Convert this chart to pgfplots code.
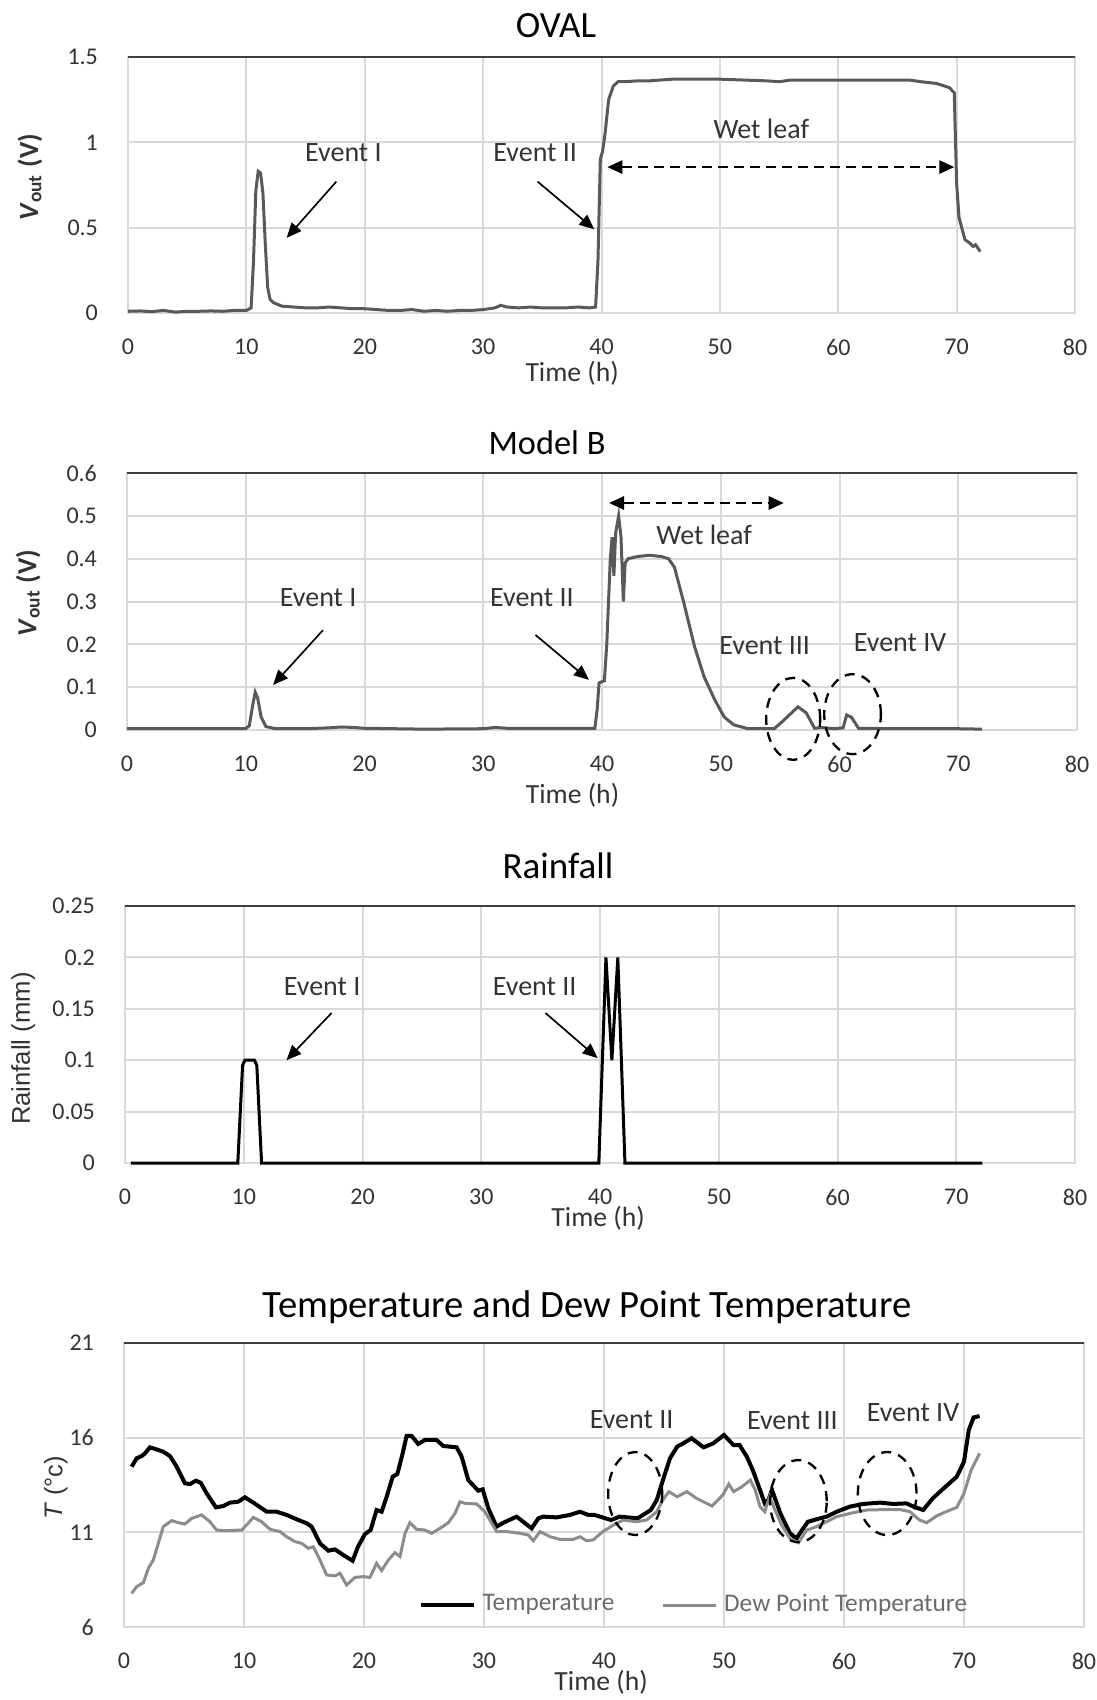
\documentclass[border=0pt]{standalone}
\usepackage{fontspec}
\setmainfont{Carlito}
\newfontfamily\arialf{Liberation Sans}
\usepackage{pgfplots}
\pgfplotsset{compat=1.18}
\usetikzlibrary{arrows.meta}
\definecolor{gridgray}{HTML}{D9D9D9}
\definecolor{curvegray}{HTML}{595959}
\definecolor{dewgray}{HTML}{8C8C8C}
\definecolor{framedark}{HTML}{404040}
\definecolor{txt}{HTML}{333333}
\definecolor{legtxt}{HTML}{6A6A6A}

\pgfplotsset{
  panel/.style={
    scale only axis, anchor=south west, clip=false,
    xmin=0, xmax=80, xtick={0,10,...,80},
    grid=major, major grid style={draw=gridgray, line width=0.6pt},
    axis line style={draw=gridgray, line width=0.6pt},
    major tick length=0pt, scaled ticks=false,
    tick label style={font=\fontsize{7.2}{8}\selectfont, text=txt},
    /pgf/number format/assume math mode=true,
    yticklabel style={/pgf/number format/fixed, /pgf/number format/precision=2,
      anchor=east, xshift=-5.5pt},
    xticklabel style={anchor=center, yshift=-10.2pt},
    xlabel={Time (h)},
    label style={font=\fontsize{8.3}{9}\selectfont, text=txt},
  },
}
\tikzset{
  note/.style={font=\fontsize{8.4}{9}\selectfont, text=txt},
  arr/.style={-{Triangle[length=4.5pt,width=3.8pt]}, line width=0.5pt, black},
  dbl/.style={{Triangle[length=4.5pt,width=4pt]}-{Triangle[length=4.5pt,width=4pt]},
    line width=0.6pt, black, dash pattern=on 3pt off 1.8pt},
  ring/.style={line width=0.7pt, black, dash pattern=on 3pt off 2.2pt},
  topline/.style={line width=0.7pt, framedark},
}

\begin{document}
\begin{tikzpicture}
\useasboundingbox (0,0) rectangle (328.8pt,-510pt);

% ---- OVAL ----
\node[anchor=base, font=\fontsize{11.1}{13}\selectfont] at (166.8pt,-11.4pt) {OVAL};
\begin{axis}[panel, at={(38.4pt,-93.9pt)}, width=284.1pt, height=76.8pt,
  ymin=0, ymax=1.5, ytick={0,0.5,1,1.5},
  ylabel={\bfseries\textit{V}\textsubscript{out} (V)},
  ylabel style={at={(axis description cs:-0.1035,0.53)}, anchor=center},
  xlabel style={at={(axis description cs:0.469,-0.234)}, anchor=center}]
\addplot[curvegray, line width=0.9pt] coordinates {
 (0,0.01) (1,0.012) (2,0.008) (3,0.015) (4,0.005) (5,0.01) (6,0.01) (7,0.012)
 (8,0.01) (9,0.015) (10,0.015) (10.4,0.03) (10.6,0.3) (10.8,0.72) (11.0,0.83)
 (11.2,0.82) (11.4,0.7) (11.6,0.4) (11.8,0.15) (12.0,0.08) (12.3,0.06) (13,0.04)
 (14,0.035) (15,0.03) (16,0.03) (17,0.035) (18,0.03) (19,0.025) (20,0.025)
 (21,0.02) (22,0.015) (23,0.015) (24,0.02) (25,0.01) (26,0.015) (27,0.01)
 (28,0.015) (29,0.015) (30,0.02) (31,0.03) (31.5,0.045) (32,0.035) (33,0.03)
 (34,0.035) (35,0.03) (36,0.03) (37,0.03) (38,0.035) (39,0.03) (39.5,0.035)
 (39.7,0.3) (39.9,0.9) (40.1,0.95) (40.3,1.05) (40.6,1.25) (41.0,1.33)
 (41.4,1.355) (42,1.355) (43,1.36) (44,1.36) (45,1.365) (46,1.37) (48,1.37)
 (50,1.37) (52,1.365) (54,1.36) (55,1.355) (56,1.365) (58,1.365) (60,1.365)
 (62,1.365) (64,1.365) (66,1.365) (67,1.355) (68.3,1.345) (69.4,1.32)
 (69.8,1.29) (70.0,0.76) (70.2,0.56) (70.7,0.43) (71.1,0.41) (71.4,0.39)
 (71.6,0.40) (72.0,0.36)};
\draw[topline] (rel axis cs:0,1) -- (rel axis cs:1,1);
\node[note] at (axis cs:18.2,0.94) {Event I};
\draw[arr] (axis cs:17.6,0.77) -- (axis cs:13.4,0.44);
\node[note] at (axis cs:34.4,0.94) {Event II};
\draw[arr] (axis cs:34.6,0.77) -- (axis cs:39.4,0.49);
\node[note] at (axis cs:53.5,1.08) {Wet leaf};
\draw[dbl] (axis cs:40.5,0.855) -- (axis cs:69.8,0.855);
\end{axis}

% ---- Model B ----
\node[anchor=base, font=\fontsize{10.3}{12}\selectfont] at (164.1pt,-136.5pt) {Model B};
\begin{axis}[panel, at={(38.1pt,-219pt)}, width=285pt, height=77.1pt,
  ymin=0, ymax=0.6, ytick={0,0.1,...,0.6},
  ylabel={\bfseries\textit{V}\textsubscript{out} (V)},
  ylabel style={at={(axis description cs:-0.104,0.533)}, anchor=center},
  xlabel style={at={(axis description cs:0.469,-0.253)}, anchor=center}]
\addplot[curvegray, line width=0.9pt] coordinates {
 (0,0.003) (5,0.003) (10,0.003) (10.3,0.01) (10.6,0.06) (10.8,0.088) (11.0,0.075)
 (11.3,0.03) (11.7,0.008) (12.5,0.003) (15,0.003) (17,0.005) (18,0.007)
 (19,0.006) (20,0.004) (25,0.002) (30,0.003) (31,0.006) (32,0.004) (35,0.004)
 (39.4,0.004) (39.6,0.05) (39.75,0.11) (40.2,0.115) (40.4,0.2) (40.7,0.40)
 (40.85,0.45) (41.0,0.36) (41.15,0.46) (41.4,0.50) (41.6,0.45) (41.8,0.30)
 (41.95,0.39) (42.2,0.40) (43,0.405) (44,0.408) (45,0.405) (45.6,0.4)
 (46.1,0.38) (46.9,0.296) (47.8,0.194) (48.6,0.124) (49.5,0.07) (50.3,0.03)
 (51.1,0.012) (52.3,0.003) (54.5,0.003) (55.2,0.02) (56.5,0.054) (57.2,0.04)
 (57.9,0.004) (58.5,0.006) (59.5,0.003) (60.3,0.005) (60.6,0.035) (61.0,0.03)
 (61.6,0.004) (65,0.003) (70,0.003) (72,0.002)};
\draw[topline] (rel axis cs:0,1) -- (rel axis cs:1,1);
\node[note] at (axis cs:16.1,0.308) {Event I};
\draw[arr] (axis cs:16.5,0.233) -- (axis cs:12.3,0.105);
\node[note] at (axis cs:34.1,0.308) {Event II};
\draw[arr] (axis cs:34.4,0.222) -- (axis cs:38.9,0.117);
\node[note] at (axis cs:48.6,0.455) {Wet leaf};
\draw[dbl] (axis cs:40.6,0.53) -- (axis cs:55.3,0.53);
\node[note] at (axis cs:53.7,0.198) {Event III};
\node[note] at (axis cs:65.1,0.203) {Event IV};
\draw[ring] (axis cs:56.1,0.026) ellipse [x radius=8.1pt, y radius=12.3pt];
\draw[ring] (axis cs:61.1,0.037) ellipse [x radius=8.5pt, y radius=12pt];
\end{axis}

% ---- Rainfall ----
\node[anchor=base, font=\fontsize{11.1}{13}\selectfont] at (167.4pt,-263.4pt) {Rainfall};
\begin{axis}[panel, at={(37.5pt,-348.9pt)}, width=285pt, height=77.1pt,
  ymin=0, ymax=0.25, ytick={0,0.05,...,0.25},
  ylabel={\arialf Rainfall (mm)},
  ylabel style={at={(axis description cs:-0.107,0.445)}, anchor=center, font=\fontsize{7.7}{9}\selectfont},
  xlabel style={at={(axis description cs:0.498,-0.215)}, anchor=center}]
\addplot[black, line width=0.9pt] coordinates {
 (0.5,0) (9.5,0) (9.9,0.095) (10.1,0.1) (10.9,0.1) (11.1,0.095) (11.5,0)
 (39.9,0) (40.5,0.2) (41.0,0.1) (41.5,0.2) (42.1,0) (72.2,0)};
\draw[topline] (rel axis cs:0,1) -- (rel axis cs:1,1);
\node[note] at (axis cs:16.6,0.172) {Event I};
\draw[arr] (axis cs:17.4,0.146) -- (axis cs:13.6,0.1);
\node[note] at (axis cs:34.5,0.172) {Event II};
\draw[arr] (axis cs:35.4,0.146) -- (axis cs:39.8,0.102);
\end{axis}

% ---- Temperature ----
\node[anchor=base, font=\fontsize{11.6}{14}\selectfont] at (176.1pt,-395.1pt) {Temperature and Dew Point Temperature};
\begin{axis}[panel, at={(37.2pt,-488.1pt)}, width=288pt, height=85.2pt,
  ymin=6, ymax=21, ytick={6,11,16,21},
  ylabel={\arialf\textit{T} (°c)},
  ylabel style={at={(axis description cs:-0.071,0.49)}, anchor=center, font=\fontsize{7.6}{9}\selectfont},
  xlabel style={at={(axis description cs:0.497,-0.194)}, anchor=center},
  legend style={draw=none, fill=none, at={(0.596,0.077)}, anchor=center,
    legend columns=2, font=\fontsize{7.6}{9}\selectfont, text=legtxt,
    /tikz/every even column/.append style={column sep=12pt}},
  legend image code/.code={\draw[#1] (0pt,0pt) -- (16pt,0pt);}]
\addplot[black, line width=1.2pt] coordinates {
 (0.64,14.47) (1.05,14.91) (1.47,15.03) (1.75,15.17) (2.16,15.49) (2.72,15.38)
 (3.27,15.26) (3.83,15.03) (4.39,14.47) (5.08,13.59) (5.5,13.55) (6.0,13.73)
 (6.39,13.62) (6.89,13.06) (7.66,12.32) (8.27,12.39) (8.83,12.57) (9.52,12.62)
 (10.08,12.85) (10.78,12.57) (11.89,12.09) (12.72,12.09) (13.55,11.92)
 (14.39,11.69) (15.22,11.48) (15.64,11.3) (16.33,10.42) (17.03,10.03)
 (17.58,10.1) (18.28,9.8) (19.05,9.5) (19.5,10.24) (20.08,10.91) (20.55,11.12)
 (21.05,12.18) (21.47,12.09) (21.89,12.88) (22.39,13.94) (22.78,14.08)
 (23.22,15.17) (23.55,16.09) (23.97,16.09) (24.52,15.67) (25.08,15.88)
 (26.05,15.88) (26.61,15.56) (27.72,15.49) (28.14,15.0) (28.69,13.76)
 (29.53,13.2) (29.89,13.27) (30.36,12.27) (31.05,11.3) (31.61,11.51)
 (32.72,11.83) (33.42,11.48) (33.97,11.21) (34.53,11.74) (34.94,11.83)
 (36.05,11.79) (37.16,11.92) (37.99,12.09) (38.69,11.92) (39.2,11.92)
 (40.6,11.65) (41.3,11.83) (42.8,11.74) (43.9,12.18) (44.4,12.71) (45.0,13.94)
 (45.5,14.91) (46.1,15.53) (46.6,15.7) (47.3,15.97) (48.3,15.49) (49.1,15.7)
 (50.0,16.14) (50.8,15.61) (51.3,15.61) (51.9,15.0) (52.4,14.29) (53.0,13.24)
 (53.4,12.53) (53.7,12.71) (54.0,13.24) (54.25,12.8) (54.7,12.0) (55.5,10.95)
 (56.05,10.68) (56.5,11.12) (57.0,11.56) (58.0,11.74) (58.55,11.83)
 (59.4,12.09) (60.5,12.36) (61.6,12.5) (63.0,12.57) (64.1,12.5) (65.2,12.53)
 (65.8,12.36) (66.6,12.18) (67.4,12.8) (68.3,13.32) (69.4,13.94) (70.0,14.73)
 (70.4,16.4) (70.8,17.07) (71.3,17.14)};
\addlegendentry{Temperature}
\addplot[dewgray, line width=0.9pt] coordinates {
 (0.64,7.78) (1.05,8.13) (1.61,8.34) (2.03,9.1) (2.44,9.54) (2.86,10.42)
 (3.27,11.3) (3.97,11.62) (4.53,11.51) (5.08,11.44) (5.64,11.74) (6.47,11.92)
 (7.16,11.56) (7.72,11.12) (8.41,11.09) (9.8,11.12) (10.22,11.39) (10.78,11.79)
 (11.47,11.56) (12.17,11.16) (13.0,11.04) (13.55,10.77) (14.25,10.51)
 (14.8,10.42) (15.36,10.16) (15.78,10.24) (16.33,9.54) (16.89,8.75)
 (17.58,8.7) (18.0,8.84) (18.55,8.22) (19.25,8.62) (19.94,8.66) (20.5,8.62)
 (21.05,9.36) (21.47,8.98) (22.03,9.54) (22.58,9.93) (23.0,9.72) (23.42,10.95)
 (23.83,11.51) (24.39,11.16) (25.08,11.12) (25.64,10.95) (26.33,11.21)
 (27.03,11.51) (27.58,12.0) (28.0,12.62) (28.42,12.53) (29.39,12.5)
 (30.08,12.09) (31.05,11.04) (31.89,11.04) (33.0,10.95) (33.69,10.86)
 (34.11,10.56) (34.67,11.04) (35.5,10.77) (36.33,10.63) (37.44,10.63)
 (38.0,10.77) (38.55,10.56) (39.1,10.6) (39.9,11.04) (40.8,11.39) (41.6,11.65)
 (42.7,11.56) (43.55,11.65) (44.4,12.09) (44.9,12.71) (45.4,13.15) (46.1,12.88)
 (46.9,13.15) (47.7,12.8) (49.0,12.39) (49.9,12.97) (50.4,13.55) (50.8,13.15)
 (51.5,13.41) (52.2,13.76) (52.6,13.24) (53.0,12.36) (53.4,12.09) (53.8,12.88)
 (54.25,12.18) (54.8,11.39) (55.5,10.68) (56.2,10.45) (56.9,11.12) (57.7,11.3)
 (58.55,11.56) (59.4,11.83) (60.5,12.0) (61.9,12.18) (63.3,12.2) (64.7,12.2)
 (65.5,12.09) (66.3,11.65) (66.9,11.51) (67.7,11.86) (68.5,12.09) (69.4,12.32)
 (70.0,13.06) (70.6,14.29) (71.3,15.17)};
\addlegendentry{Dew Point Temperature}
\draw[topline] (rel axis cs:0,1) -- (rel axis cs:1,1);
\node[note] at (axis cs:42.3,16.93) {Event II};
\node[note] at (axis cs:55.7,16.9) {Event III};
\node[note] at (axis cs:65.75,17.35) {Event IV};
\draw[ring] (axis cs:42.6,13.05) ellipse [x radius=8.1pt, y radius=12.45pt];
\draw[ring] (axis cs:56.2,12.65) ellipse [x radius=8.5pt, y radius=12.3pt];
\draw[ring] (axis cs:63.6,13.05) ellipse [x radius=8.8pt, y radius=12.45pt];
\end{axis}
\end{tikzpicture}
\end{document}
